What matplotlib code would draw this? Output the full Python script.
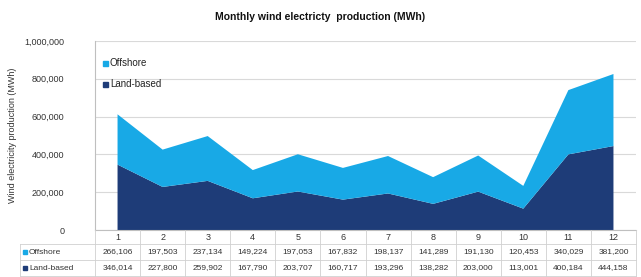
import matplotlib
matplotlib.use("Agg")
import matplotlib.pyplot as plt
from matplotlib.lines import Line2D
from matplotlib.patches import Rectangle

plt.rcParams['font.family'] = ['Liberation Sans', 'DejaVu Sans']

months = ["1", "2", "3", "4", "5", "6", "7", "8", "9", "10", "11", "12"]
offshore = [266106, 197503, 237134, 149224, 197053, 167832, 198137, 141289, 191130, 120453, 340029, 381200]
land_based = [346014, 227800, 259902, 167790, 203707, 160717, 193296, 138282, 203000, 113001, 400184, 444158]
series_names = ["Offshore", "Land-based"]
yticks = [0, 200000, 400000, 600000, 800000, 1000000]

c_off = "#18A9E6"
c_land = "#1E3C78"

W, H = 641, 277
fig = plt.figure(figsize=(W / 100, H / 100), dpi=100)

def fx(px):
    return px / W

def fy(py):
    return 1 - py / H

ax_l, ax_r, ax_t, ax_b = 95, 636, 41, 230
ax = fig.add_axes([fx(ax_l), fy(ax_b), fx(ax_r) - fx(ax_l), fy(ax_t) - fy(ax_b)])
x = list(range(1, len(months) + 1))
ax.stackplot(x, land_based, offshore, colors=[c_land, c_off], linewidth=0)
ax.set_xlim(0.5, len(months) + 0.5)
ax.set_ylim(0, 1000000)
ax.set_yticks(yticks)
ax.set_yticklabels([f"{v:,}" for v in yticks], fontsize=6.5, color="#333333")
ax.set_xticks(x)
ax.set_xticklabels(months, fontsize=6.5, color="#333333")
ax.tick_params(axis='y', length=0, pad=22)
ax.tick_params(axis='x', length=0, pad=2)
ax.grid(axis='y', color="#D9D9D9", linewidth=0.8)
ax.set_axisbelow(True)
for s in ["top", "right"]:
    ax.spines[s].set_visible(False)
ax.spines["left"].set_color("#BFBFBF")
ax.spines["bottom"].set_color("#BFBFBF")
ax.set_ylabel("Wind electricity production (MWh)", fontsize=6.5, color="#333333", labelpad=4)
ax.yaxis.set_label_coords(-0.145, 0.5)

# legend
for i, (name, col) in enumerate(zip(series_names, [c_off, c_land])):
    yy = 63 + i * 21
    fig.patches.append(Rectangle((fx(103), fy(yy + 3)), fx(5), 5 / H, color=col, transform=fig.transFigure))
    fig.text(fx(110), fy(yy), name, fontsize=7, color="#222222", va="center", ha="left")

fig.text(0.5, fy(17), "Monthly wind electricty  production (MWh)", fontsize=7.5,
         fontweight="bold", ha="center", va="center", color="#111111")

# data table
colw = (ax_r - ax_l) / len(months)
row_tops = [244, 260]
row_h = 16
tbl_top, tbl_bot = ax_b, 276
grid_c = "#D0D0D0"
for k in range(len(months) + 1):
    xx = fx(ax_l + k * colw)
    fig.add_artist(Line2D([xx, xx], [fy(tbl_top), fy(tbl_bot)], color=grid_c, lw=0.6))
fig.add_artist(Line2D([fx(20), fx(20)], [fy(row_tops[0]), fy(tbl_bot)], color=grid_c, lw=0.6))
for yy in [row_tops[0], row_tops[1], tbl_bot]:
    fig.add_artist(Line2D([fx(20), fx(ax_r)], [fy(yy), fy(yy)], color=grid_c, lw=0.6))
for r, (name, col, vals) in enumerate(zip(series_names, [c_off, c_land], [offshore, land_based])):
    yc = row_tops[r] + row_h / 2
    fig.patches.append(Rectangle((fx(23), fy(yc + 2)), fx(4), 4 / H, color=col, transform=fig.transFigure))
    fig.text(fx(29), fy(yc), name, fontsize=6, color="#333333", va="center", ha="left")
    for k, v in enumerate(vals):
        fig.text(fx(ax_l + (k + 0.5) * colw), fy(yc), f"{v:,}", fontsize=6,
                 color="#333333", va="center", ha="center")

fig.savefig("out.png", dpi=100, facecolor="white")
